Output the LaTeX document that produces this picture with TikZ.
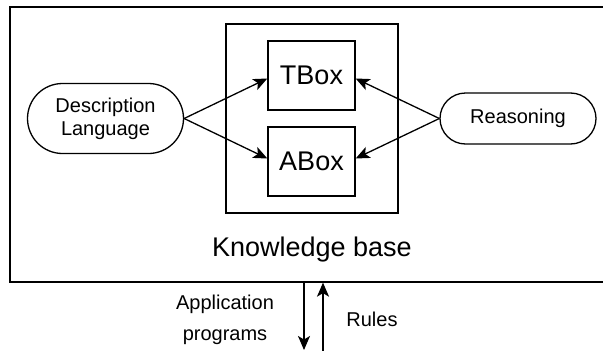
\documentclass[tikz,border=0pt]{standalone}
\usepackage{fontspec}
\setmainfont{Liberation Sans}
\usetikzlibrary{arrows.meta,shapes.misc}

\tikzset{
  box/.style={draw,line width=1.3pt,inner sep=0pt},
  pill/.style={draw,line width=1.3pt,rounded rectangle,inner sep=0pt,align=center,font=\fontsize{20}{23}\selectfont},
  arr/.style={line width=1.3pt,-{Stealth[length=14pt,width=12pt,inset=3.5pt]}},
  small/.style={inner sep=0pt,align=center,font=\fontsize{20}{31}\selectfont},
  big/.style={inner sep=0pt,font=\fontsize{27}{32}\selectfont}
}

\begin{document}
\begin{tikzpicture}[x=1pt,y=-1pt]
    \useasboundingbox (0,0) rectangle (603,351);
    \node[box,minimum width=600pt,minimum height=275pt] (kb) at (310,144.5) {};
    \node[big] (kbname) at (312,250) {Knowledge base};
    \node[box,minimum width=172pt,minimum height=189pt] (store) at (312,118.5) {};
    \node[box,big,minimum width=87pt,minimum height=69pt] (tbox) at (311.5,75.5) {TBox};
    \node[box,big,minimum width=87pt,minimum height=69pt] (abox) at (311.5,161.5) {ABox};
    \node[pill,minimum width=156pt,minimum height=70pt] (lang) at (105.5,118.5) {Description\\Language};
    \node[pill,minimum width=156pt,minimum height=51pt] (reason) at (518,118.5) {Reasoning};
    \draw[arr] (lang.east) -- ([yshift=-3pt]tbox.west);
    \draw[arr] (lang.east) -- ([yshift=3pt]abox.west);
    \draw[arr] (reason.west) -- ([yshift=-3pt]tbox.east);
    \draw[arr] (reason.west) -- ([yshift=3pt]abox.east);
    % links below the knowledge base
    \coordinate (appout) at (304,350);
    \coordinate (rulesin) at (323,352);
    \draw[arr] (appout |- kb.south) -- (appout);
    \draw[arr] (rulesin) -- (rulesin |- kb.south);
    \node[small] (apps) at (225,320) {Application\\programs};
    \node[small] (rules) at (372,319.5) {Rules};
\end{tikzpicture}
\end{document}
